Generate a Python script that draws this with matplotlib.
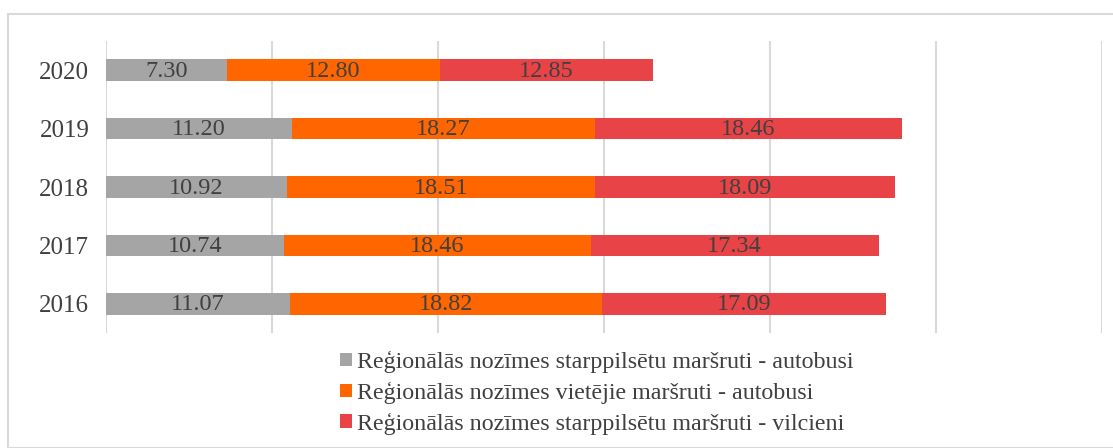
import matplotlib
matplotlib.use("Agg")
import matplotlib.pyplot as plt
from matplotlib.patches import Rectangle
import numpy as np

years = ["2016", "2017", "2018", "2019", "2020"]
series_names = [
    "Reģionālās nozīmes starppilsētu maršruti - autobusi",
    "Reģionālās nozīmes vietējie maršruti - autobusi",
    "Reģionālās nozīmes starppilsētu maršruti - vilcieni",
]
intercity_bus = [11.07, 10.74, 10.92, 11.20, 7.30]
local_bus = [18.82, 18.46, 18.51, 18.27, 12.80]
intercity_rail = [17.09, 17.34, 18.09, 18.46, 12.85]
colors = ["#A5A5A5", "#FF6600", "#E84346"]

plt.rcParams['font.family'] = ['Liberation Serif', 'DejaVu Serif']
W, H = 1113, 448
fig = plt.figure(figsize=(W / 100, H / 100), dpi=100)
ax = fig.add_axes([106 / W, (H - 333) / H, (1102 - 106) / W, (333 - 41) / H])

y = np.arange(len(years))
left = np.zeros(len(years))
for vals, name, c in zip([intercity_bus, local_bus, intercity_rail], series_names, colors):
    ax.barh(y, vals, left=left, height=0.37, color=c, label=name, zorder=3)
    for yi, l, v in zip(y, left, vals):
        ax.annotate(f"{v:.2f}", (l + v / 2, yi), xytext=(0, -1), textcoords='offset pixels',
                    ha='center', va='center', fontsize=17.5, color='#404040', zorder=4)
    left = left + np.array(vals)

ax.set_xlim(0, 60)
ax.set_ylim(-0.5, 4.5)
ax.set_xticks(np.arange(0, 61, 10))
ax.set_xticklabels([])
ax.set_yticks(y)
ax.set_yticklabels(years, fontsize=18, color='#404040')
ax.tick_params(axis='both', length=0, pad=12)
ax.grid(axis='x', color='#D9D9D9', linewidth=1.5, zorder=0)
for s in ax.spines.values():
    s.set_visible(False)

handles, labels = ax.get_legend_handles_labels()
leg = fig.legend(handles, labels, loc='upper left', bbox_to_anchor=(340 / W, 1 - 351 / H),
                 frameon=False, fontsize=17.3, handlelength=0.5, handleheight=0.5,
                 handletextpad=0.2, labelspacing=0.36, labelcolor='#404040',
                 borderaxespad=0, borderpad=0)

fig.patches.append(Rectangle((8 / W, 0), 1.2, 1 - 14 / H, transform=fig.transFigure,
                             fill=False, edgecolor='#D9D9D9', linewidth=1.5))

fig.savefig("out.png", dpi=100)
